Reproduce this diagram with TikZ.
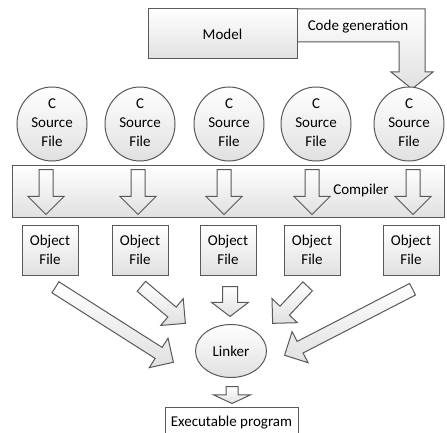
\documentclass[tikz,border=0pt]{standalone}
\usepackage{fontspec}
\setmainfont{Carlito}
\usetikzlibrary{calc,shapes.arrows,shapes.geometric}

\tikzset{
  outline/.style={draw=black!65, line width=1pt},
  shadedbox/.style={outline, top color=white, bottom color=black!12},
  objfile/.style={shadedbox, rectangle, minimum width=56, minimum height=50, inner sep=0pt, align=center},
  fatarr/.style={shadedbox, single arrow, inner sep=6.5pt, single arrow head extend=11pt}
}

\newcommand{\fatarrow}[4][]{%
  \path let \p1=($(#4)-(#3)$), \n1={veclen(\x1,\y1)} in
    (#3) -- (#4) node[fatarr, #1, pos=0, sloped, allow upside down, anchor=tail, minimum height=\n1] (#2) {};
}

\begin{document}
\begin{tikzpicture}[x=1pt,y=-1pt,font=\fontsize{15}{19}\selectfont]
\useasboundingbox (0,0) rectangle (447,433);

\draw[shadedbox] (297,9) -- (425,9) -- (425,72) -- (433,72) -- (412,89) -- (391,72) -- (399,72) -- (399,42) -- (297,42);
\node[shadedbox, minimum width=149, minimum height=50] (model) at (222.5,34) {Model};
\node (codegen) at (358,27) {Code generation};

\foreach \x [count=\i] in {52,140,229,316,409} {
  \draw[shadedbox] (\x,124) ellipse [x radius=35, y radius=37];
  \node[align=center, inner sep=0pt] (src\i) at (\x,123) {C\\Source\\File};
}

\node[shadedbox, minimum width=432, minimum height=52, inner sep=0pt] (band) at (228,191) {};
\node (complabel) at (361,191) {Compiler};

\foreach \x [count=\i] in {46,138,224,312,413} {
  \coordinate (ct\i) at (\x,169);
  \coordinate (ch\i) at (\x,214);
  \fatarrow{carr\i}{ct\i}{ch\i}
}

\foreach \x [count=\i] in {50,140,228,312,411}
  \node[objfile] (obj\i) at (\x,250) {Object\\File};

\node[shadedbox, ellipse, minimum width=71, minimum height=53, inner sep=0pt] (linker) at (231,351) {Linker};

\coordinate (lt1) at (55,287);   \coordinate (lh1) at (173,362);
\coordinate (lt2) at (141,286);  \coordinate (lh2) at (185,323);
\coordinate (lt3) at (230,286);  \coordinate (lh3) at (230,316);
\coordinate (lt4) at (308,286);  \coordinate (lh4) at (273,323);
\coordinate (lt5) at (413,289);  \coordinate (lh5) at (285,355);
\fatarrow[inner sep=6pt]{larr1}{lt1}{lh1}
\fatarrow[inner sep=6pt]{larr2}{lt2}{lh2}
\fatarrow[inner sep=7pt, single arrow tip angle=105]{larr3}{lt3}{lh3}
\fatarrow[inner sep=6pt]{larr4}{lt4}{lh4}
\fatarrow[inner sep=6pt]{larr5}{lt5}{lh5}

\coordinate (et) at (232,386);
\coordinate (eh) at (232,403);
\fatarrow[inner sep=5.5pt, single arrow head extend=12.5pt, single arrow tip angle=130]{earr}{et}{eh}

\node[outline, fill=white, minimum width=133, minimum height=30, anchor=north] (exe) at (231.5,407) {Executable program};
\end{tikzpicture}
\end{document}
